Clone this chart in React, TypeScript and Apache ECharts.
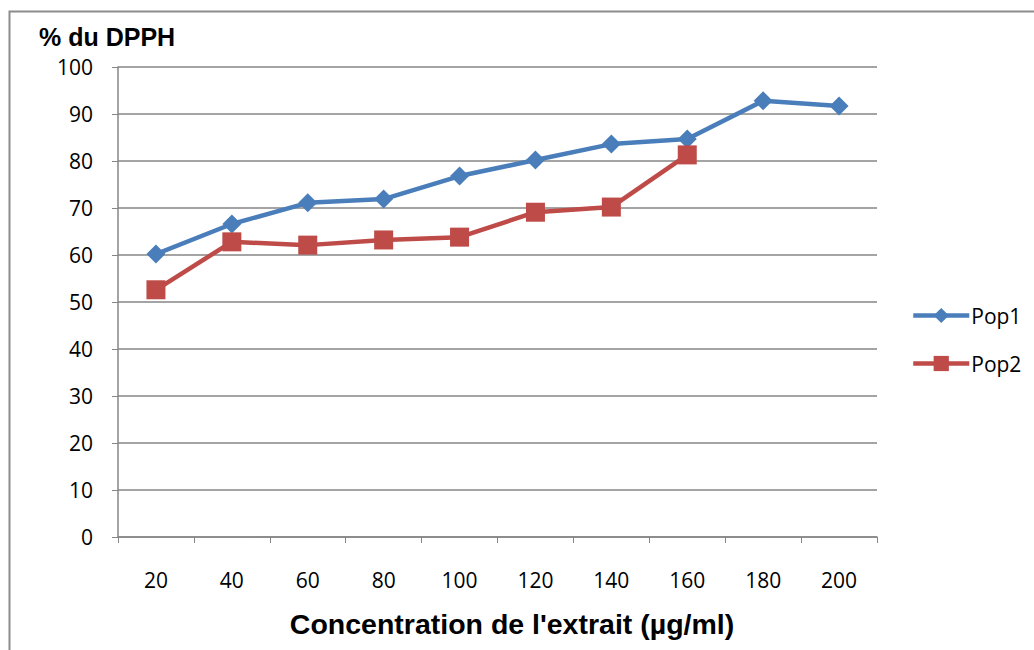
import React, { useEffect, useRef } from "react";
import * as echarts from "echarts";

const categories = ["20", "40", "60", "80", "100", "120", "140", "160", "180", "200"];
const pop1 = [60.2, 66.6, 71.1, 71.9, 76.8, 80.2, 83.6, 84.7, 92.8, 91.7];
const pop2 = [52.6, 62.8, 62.1, 63.2, 63.8, 69.1, 70.2, 81.3];
const yTitle = "% du DPPH";
const xTitle = "Concentration de l'extrait (µg/ml)";

export default function App() {
  const ref = useRef<HTMLDivElement>(null);
  useEffect(() => {
    const chart = echarts.init(ref.current!, null, { renderer: "svg" });
    const labelFont = { fontFamily: "'Open Sans', 'Liberation Sans', sans-serif", fontSize: 21, color: "#000" };
    chart.setOption({
      animation: false,
      backgroundColor: "#fff",
      graphic: [
        {
          type: "rect",
          shape: { x: 9.5, y: 11.5, width: 1100, height: 700 },
          style: { fill: "none", stroke: "#8c8c8c", lineWidth: 2 },
          silent: true,
        },
        {
          type: "text",
          x: 39,
          y: 37,
          style: {
            text: yTitle,
            font: "bold 25px 'Liberation Sans', Arial, sans-serif",
            fill: "#000",
            verticalAlign: "middle",
          },
        },
        {
          type: "text",
          x: 512,
          y: 624,
          style: {
            text: xTitle,
            font: "bold 28.5px 'Liberation Sans', Arial, sans-serif",
            fill: "#000",
            align: "center",
            verticalAlign: "middle",
          },
        },
      ],
      grid: { left: 118, right: 157, top: 67, bottom: 113, containLabel: false },
      legend: {
        orient: "vertical",
        left: 906,
        top: 300,
        itemWidth: 56,
        itemHeight: 19,
        itemGap: 27,
        lineStyle: { width: 4.5 },
        textStyle: { ...labelFont, padding: [0, 0, 0, -3] },
        data: ["Pop1", "Pop2"],
      },
      xAxis: {
        type: "category",
        data: categories,
        boundaryGap: true,
        axisLine: { lineStyle: { color: "#868686", width: 1.5 } },
        axisTick: { show: true, length: 6, lineStyle: { color: "#868686" }, alignWithLabel: false },
        axisLabel: { ...labelFont, margin: 32 },
        splitLine: { show: false },
      },
      yAxis: {
        type: "value",
        min: 0,
        max: 100,
        interval: 10,
        axisLine: { show: true, lineStyle: { color: "#868686", width: 1.5 } },
        axisTick: { show: true, length: 6, lineStyle: { color: "#868686" } },
        axisLabel: { ...labelFont, margin: 25 },
        splitLine: { show: true, lineStyle: { color: "#868686", width: 1.5 } },
      },
      series: [
        {
          name: "Pop1",
          type: "line",
          data: pop1,
          symbol: "diamond",
          symbolSize: 19,
          lineStyle: { color: "#4a7ebb", width: 4.5 },
          itemStyle: { color: "#4a7ebb" },
        },
        {
          name: "Pop2",
          type: "line",
          data: pop2,
          symbol: "rect",
          symbolSize: 19,
          lineStyle: { color: "#be4b48", width: 4.5 },
          itemStyle: { color: "#be4b48" },
        },
      ],
    });
    return () => chart.dispose();
  }, []);
  return (
    <div
      ref={ref}
      style={{ position: "fixed", left: 0, top: 0, width: 1034, height: 650 }}
    />
  );
}
